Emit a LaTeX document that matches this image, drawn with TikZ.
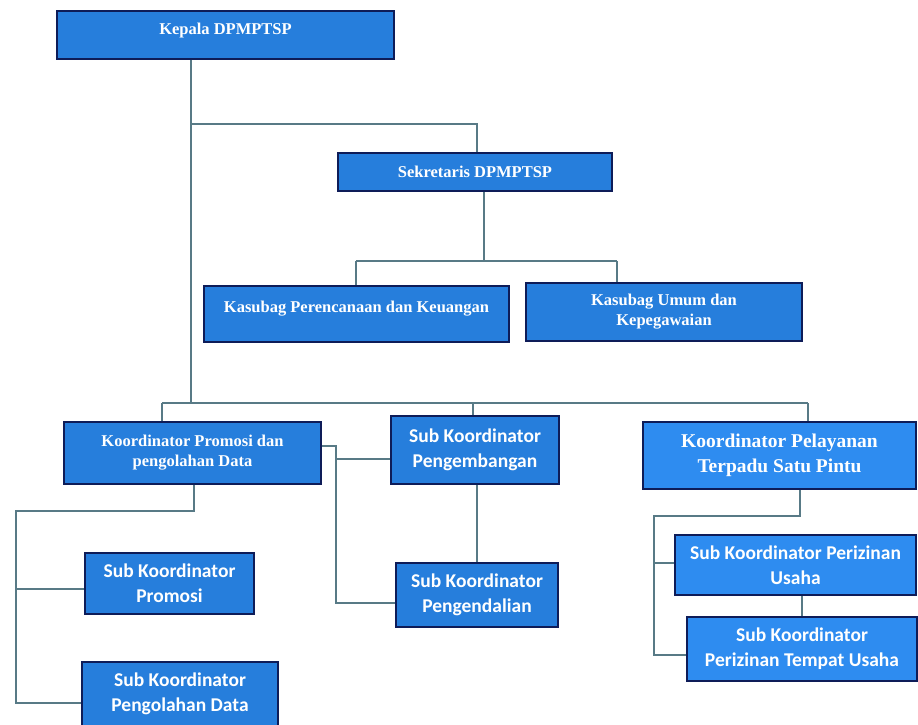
\documentclass[tikz,border=0pt]{standalone}
\usepackage{fontspec}
\setmainfont{Liberation Serif}
\newfontfamily\carlito{Carlito}
\definecolor{boxblue}{RGB}{38,126,220}
\definecolor{boxblueb}{RGB}{46,140,240}
\definecolor{navy}{RGB}{14,28,88}
\definecolor{wire}{RGB}{88,122,134}
\tikzset{
  box/.style={draw=navy, line width=1.6pt, fill=boxblue, text=white, inner sep=0pt, align=center},
  brightbox/.style={box, fill=boxblueb},
  serif/.style={font=\fontsize{16.5}{20}\selectfont\bfseries},
  serifbig/.style={font=\fontsize{19.5}{25}\selectfont\bfseries},
  sans/.style={font=\carlito\fontsize{19.5}{25}\selectfont\bfseries},
  wirestyle/.style={draw=wire, line width=1.2pt},
}
\begin{document}
\begin{tikzpicture}[x=1pt, y=-1pt]
\useasboundingbox (0,0) rectangle (918,724);
% nodes
\node[box, serif, minimum width=337pt, minimum height=48pt, text height=12pt, text depth=14pt] (kepala) at (225.5,35) {Kepala DPMPTSP};
\node[box, serif, minimum width=274pt, minimum height=38pt] (sekr) at (475,172) {Sekretaris DPMPTSP};
\node[box, serif, minimum width=305pt, minimum height=56pt, text height=12pt, text depth=16pt] (kas1) at (356.5,314) {Kasubag Perencanaan dan Keuangan};
\node[box, serif, minimum width=276pt, minimum height=58pt] (kas2) at (664,312) {Kasubag Umum dan\\Kepegawaian};
\node[box, serif, minimum width=257pt, minimum height=62pt] (kprom) at (192.5,453) {Koordinator Promosi dan\\pengolahan Data};
\node[box, sans, minimum width=168pt, minimum height=68pt] (pengem) at (475,450) {Sub Koordinator\\Pengembangan};
\node[brightbox, serifbig, minimum width=273pt, minimum height=67pt] (pelay) at (779.5,455.5) {Koordinator Pelayanan\\Terpadu Satu Pintu};
\node[box, sans, minimum width=169pt, minimum height=61pt] (promosi) at (169.5,583.5) {Sub Koordinator\\Promosi};
\node[box, sans, minimum width=196pt, minimum height=64pt] (olah) at (180,694) {Sub Koordinator\\Pengolahan Data};
\node[box, sans, minimum width=162pt, minimum height=64pt] (pengen) at (477,595) {Sub Koordinator\\Pengendalian};
\node[brightbox, sans, minimum width=241pt, minimum height=60pt] (izin) at (795.5,565) {Sub Koordinator Perizinan\\Usaha};
\node[brightbox, sans, minimum width=230pt, minimum height=64pt] (tempat) at (802,649) {Sub Koordinator\\Perizinan Tempat Usaha};
% junction coordinates
\coordinate (busL) at (162,403);
\coordinate (busM) at (191,403);
\coordinate (busC) at (473,403);
\coordinate (busR) at (808,403);
\coordinate (sk1) at (191,124);
\coordinate (sk2) at (477,124);
\coordinate (kj) at (484,261);
\coordinate (kj1) at (356,261);
\coordinate (kj2) at (617,261);
\coordinate (pl1) at (194,511);
\coordinate (pl2) at (16,511);
\coordinate (pl3) at (16,589);
\coordinate (pl4) at (16,703);
\coordinate (pm1) at (336,446);
\coordinate (pm2) at (336,459);
\coordinate (pm3) at (336,603);
\coordinate (pr1) at (800,516);
\coordinate (pr2) at (654,516);
\coordinate (pr3) at (654,563);
\coordinate (pr4) at (654,655);
% connectors
\draw[wirestyle] (kepala.south -| busM) -- (busM);
\draw[wirestyle] (sk1) -- (sk2) -- (sekr.north -| sk2);
\draw[wirestyle] (sekr.south -| kj) -- (kj);
\draw[wirestyle] (kj1) -- (kj2);
\draw[wirestyle] (kj1) -- (kas1.north -| kj1);
\draw[wirestyle] (kj2) -- (kas2.north -| kj2);
\draw[wirestyle] (busL) -- (busR);
\draw[wirestyle] (busL) -- (kprom.north -| busL);
\draw[wirestyle] (busC) -- (pengem.north -| busC);
\draw[wirestyle] (busR) -- (pelay.north -| busR);
\draw[wirestyle] (kprom.south -| pl1) -- (pl1) -- (pl2) -- (pl4) -- (olah.west |- pl4);
\draw[wirestyle] (pl3) -- (promosi.west |- pl3);
\draw[wirestyle] (kprom.east |- pm1) -- (pm1) -- (pm3) -- (pengen.west |- pm3);
\draw[wirestyle] (pm2) -- (pengem.west |- pm2);
\draw[wirestyle] (pengem.south -| pengen.north) -- (pengen.north);
\draw[wirestyle] (pelay.south -| pr1) -- (pr1) -- (pr2) -- (pr4) -- (tempat.west |- pr4);
\draw[wirestyle] (pr3) -- (izin.west |- pr3);
\draw[wirestyle] (izin.south -| tempat.north) -- (tempat.north);
\end{tikzpicture}
\end{document}
